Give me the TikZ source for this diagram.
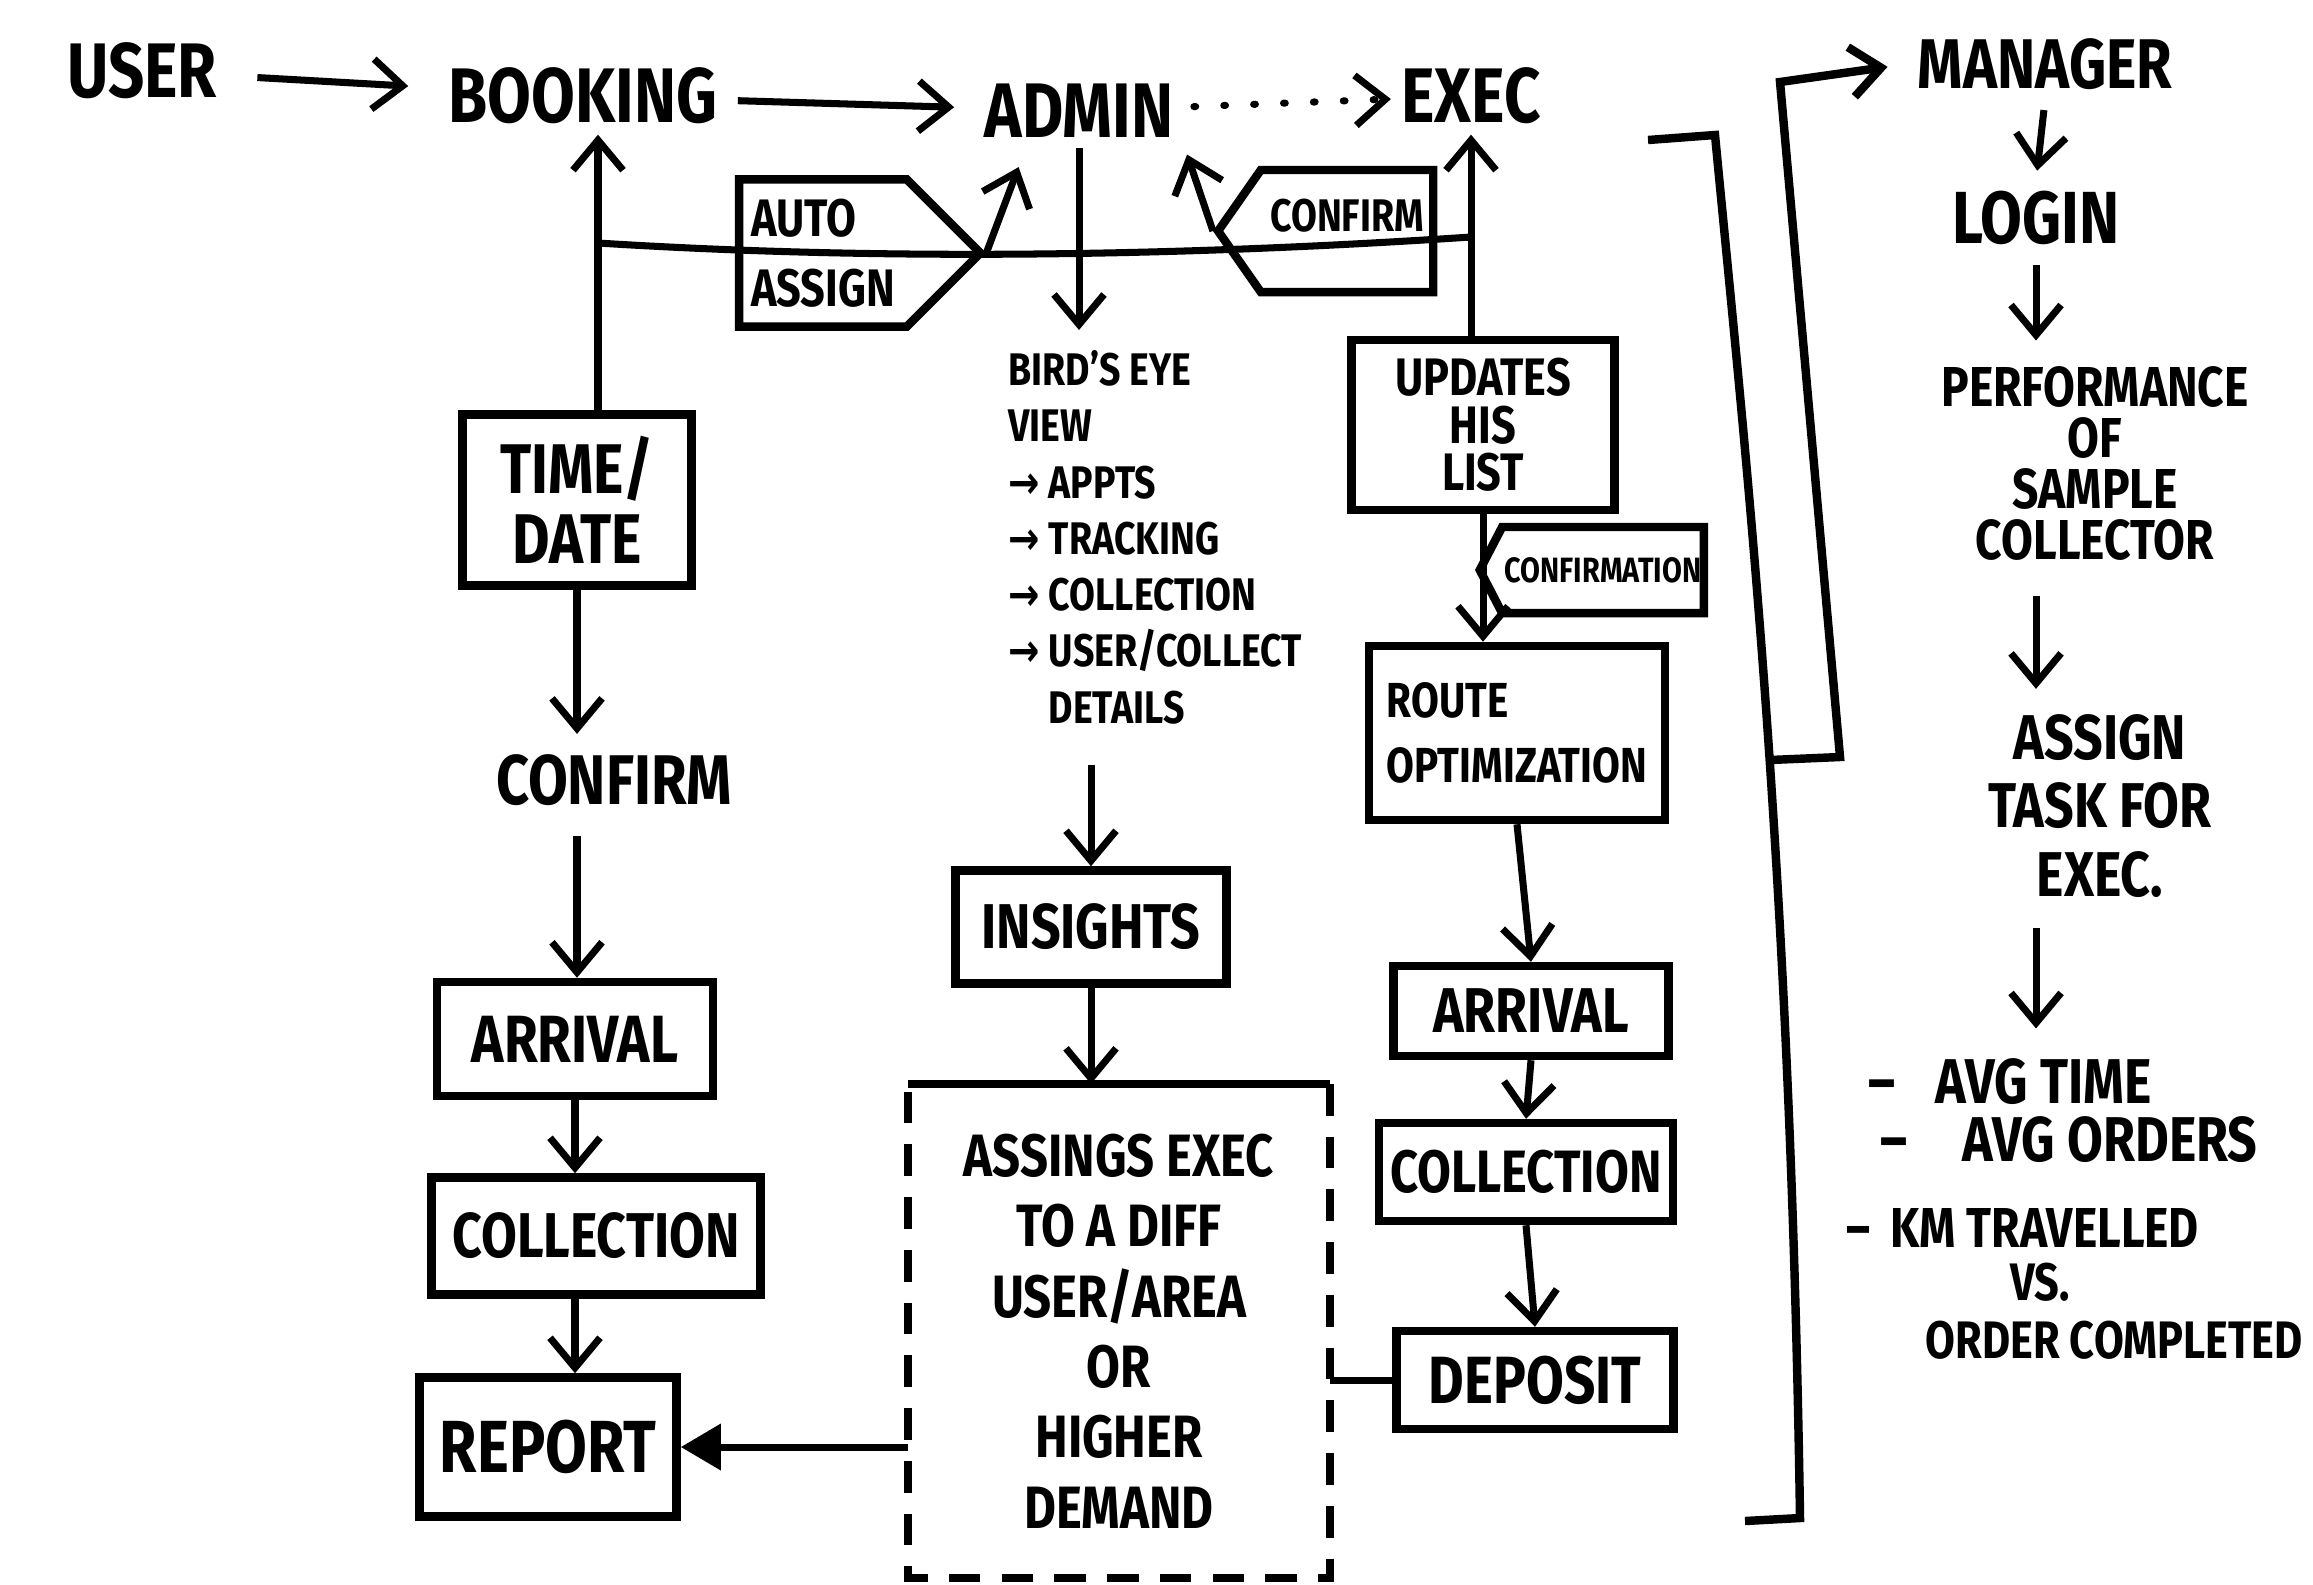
\documentclass[tikz,border=0pt]{standalone}
\usepackage{fontspec}
\setmainfont{Fira Sans}[FakeStretch=0.82]
\newfontfamily\arwfont{DejaVu Sans}[FakeStretch=0.82]
\usetikzlibrary{arrows.meta,shapes.symbols}

\begin{document}
\begin{tikzpicture}[x=0.01cm,y=-0.01cm,line width=2pt,
		fs/.style 2 args={font=\bfseries\fontsize{#1}{#2}\selectfont},
		word/.style={fs={22}{24},inner sep=2pt},
		sbox/.style={draw,line width=2.4pt,align=center,inner sep=0pt,fs={19}{21}},
		flag/.style={draw,line width=2.4pt,shape=signal,inner sep=0pt,align=left},
		arw/.style={-{Straight Barb[length=3mm,width=5mm]}},
		dots/.style={line cap=round,dash pattern=on 0.5pt off 8pt}]
	\fill[white] (0,0) rectangle (2313,1584);
	\node[word] (user) at (142,71) {USER};
	\node[word] (booking) at (583,96) {BOOKING};
	\node[word] (admin) at (1079,111) {ADMIN};
	\node[word] (exec) at (1471,96) {EXEC};
	\node[flag,signal to=east,signal pointer angle=90,minimum width=2.41cm,minimum height=1.47cm,fs={15}{20}] (autoassign) at (823,253) {AUTO\\ASSIGN};
	\node[flag,signal to=west,signal pointer angle=110,minimum width=2.15cm,minimum height=1.22cm,fs={13}{15}] (confirmtag) at (1347,231) {\raisebox{0pt}[0pt][0pt]{CONFIRM}};
	\node[fs={13}{16},anchor=north west,align=left,inner sep=2pt] (birds) at (998,340) {BIRD'S EYE\\VIEW\\{\arwfont →} APPTS\\{\arwfont →} TRACKING\\{\arwfont →} COLLECTION\\{\arwfont →} USER/COLLECT\\\phantom{{\arwfont →}\ }DETAILS};
	\node[sbox,minimum width=2.71cm,minimum height=1.13cm,fs={18}{20}] (insights) at (1091,927) {INSIGHTS};
	\node[minimum width=4.15cm,minimum height=4.87cm,align=center,inner sep=0pt,fs={17}{20}] (assign) at (1119,1331) {ASSINGS EXEC\\TO A DIFF\\USER/AREA\\OR\\HIGHER\\DEMAND};
	\node[sbox,minimum width=2.29cm,minimum height=1.71cm,fs={20}{20}] (timedate) at (577,500) {TIME/\\DATE};
	\node[word,fs={20}{22}] (confirmL) at (614,780) {CONFIRM};
	\node[sbox,minimum width=2.76cm,minimum height=1.14cm] (arrivalL) at (575,1039) {ARRIVAL};
	\node[sbox,minimum width=3.29cm,minimum height=1.17cm,fs={18}{20}] (collectL) at (596,1236) {COLLECTION};
	\node[sbox,minimum width=2.57cm,minimum height=1.39cm,fs={21}{23}] (report) at (548,1447) {REPORT};
	\node[sbox,minimum width=2.63cm,minimum height=1.70cm,fs={15}{13.5}] (updates) at (1483,425) {UPDATES\\HIS\\LIST};
	\node[flag,signal to=west,signal pointer angle=125,minimum width=2.24cm,minimum height=0.86cm,fs={10}{12}] (confirmation) at (1603,570) {CONFIRMATION};
	\node[sbox,minimum width=2.96cm,minimum height=1.74cm,align=left,fs={14}{18.5}] (route) at (1517,733) {ROUTE\\OPTIMIZATION};
	\node[sbox,minimum width=2.75cm,minimum height=0.90cm,fs={18}{20}] (arrivalR) at (1531,1011) {ARRIVAL};
	\node[sbox,minimum width=2.94cm,minimum height=0.98cm,fs={17}{20}] (collectR) at (1526,1172) {COLLECTION};
	\node[sbox,minimum width=2.77cm,minimum height=0.98cm,fs={19}{20}] (deposit) at (1535,1380) {DEPOSIT};
	\node[word,fs={20}{22}] (manager) at (2045,64) {MANAGER};
	\node[word,fs={21}{22}] (login) at (2036,218) {LOGIN};
	\node[word,fs={16}{14.5},align=center] (perf) at (2095,463) {PERFORMANCE\\OF\\SAMPLE\\COLLECTOR};
	\node[word,fs={18}{19.5},align=center] (task) at (2100,806) {ASSIGN\\TASK FOR\\EXEC.};
	\node[word,fs={18}{20},anchor=west] (avgtime) at (1858,1082) {–\hspace{0.4cm}AVG TIME};
	\node[word,fs={18}{20},anchor=west] (avgorders) at (1870,1140) {–\hspace{0.55cm}AVG ORDERS};
	\node[word,fs={16}{20},anchor=west] (kmtrav) at (1836,1228) {–\hspace{0.2cm}KM TRAVELLED};
	\node[word,fs={15}{20},anchor=west] (vs) at (2000,1282) {VS.};
	\node[word,fs={15}{20},anchor=west] (ordcomp) at (1915,1340) {ORDER COMPLETED};
	\coordinate (bk) at (598,243);
	\coordinate (ek) at (1471,237);
	\coordinate (brk) at (1770,760);
	\draw[arw,shorten <=3mm,shorten >=3mm] (user) -- (booking);
	\draw[arw,shorten <=1mm,shorten >=2mm] (booking) -- (admin);
	\draw[arw,dots,shorten <=1mm] (admin) -- (exec);
	\draw[arw] (timedate.north -| bk) -- (bk |- booking.south);
	\draw[arw] (exec.south |- updates.north) -- (exec.south);
	\draw (bk) .. controls (900,262) and (1200,255) .. (ek);
	\draw[arw,shorten >=2mm] (autoassign.east) -- (admin.-145);
	\draw[arw,shorten >=1mm] (confirmtag.west) -- (admin.-18);
	\draw[arw,shorten >=1mm] (admin.south) -- (admin.south |- birds.north);
	\draw[arw,shorten <=3mm] (insights.north |- birds.south) -- (insights.north);
	\draw[arw] (insights.south) -- (insights.south |- assign.north);
	\draw[line width=2.4pt] (assign.north west) -- (assign.north east);
	\draw[line width=2.4pt,dash pattern=on 9pt off 6pt] (assign.north east) -- (assign.south east) -- (assign.south west) -- (assign.north west);
	\draw[arw,shorten >=1mm] (timedate.south) -- (timedate.south |- confirmL.north);
	\draw[arw,shorten <=2mm] (timedate.south |- confirmL.south) -- (timedate.south |- arrivalL.north);
	\draw[arw] (arrivalL.south) -- (arrivalL.south |- collectL.north);
	\draw[arw] (arrivalL.south |- collectL.south) -- (arrivalL.south |- report.north);
	\draw[-{Triangle[length=4mm,width=4.5mm]}] (assign.west |- report.east) -- (report.east);
	\draw[arw] (updates.south) -- (updates.south |- route.north);
	\draw[arw] (route.south) -- (arrivalR.north);
	\draw[arw] (arrivalR.south) -- (collectR.north);
	\draw[arw] (collectR.south) -- (deposit.north);
	\draw (deposit.west) -- (deposit.west -| assign.east);
	\draw[line width=2.4pt] (1648,140) -- (1715,135) .. controls (1745,450) and (1790,850) .. (1800,1518) -- (1745,1521);
	\draw[arw,line width=2.4pt,shorten >=2mm] (brk) -- (1840,757) -- (1780,82) -- (manager.west);
	\draw[arw,shorten <=1mm,shorten >=1mm] (manager.south) -- (login.north);
	\draw[arw,shorten <=1mm,shorten >=1.5mm] (login.south) -- (login.south |- perf.north);
	\draw[arw,shorten <=2.5mm,shorten >=1.5mm] (login.south |- perf.south) -- (login.south |- task.north);
	\draw[arw,shorten <=2mm,shorten >=2mm] (login.south |- task.south) -- (login.south |- avgtime.north);
\end{tikzpicture}
\end{document}
